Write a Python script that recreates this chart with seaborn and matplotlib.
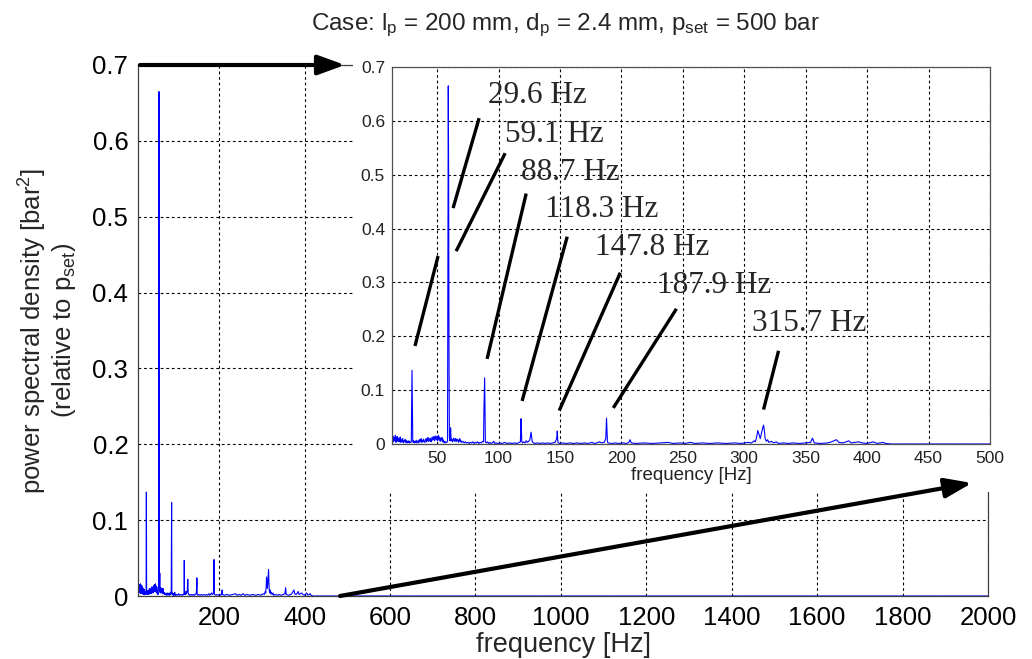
import numpy as np
import pandas as pd
import seaborn as sns
import matplotlib.pyplot as plt
from matplotlib.patches import Rectangle

# spectrum (frequency [Hz], psd [bar^2] relative to p_set)
freq_hz = [13.5, 14.0, 14.5, 15.0, 15.5, 16.0, 16.5, 17.0, 17.5, 18.0, 18.5, 19.0, 19.5, 20.0, 20.5,
           21.0, 21.5, 22.0, 22.5, 23.0, 23.5, 24.0, 24.5, 25.0, 25.5, 26.0, 26.5, 27.0, 27.5, 28.0, 28.5,
           29.0, 29.3, 29.6, 29.9, 30.2,
           30.5, 31.0, 31.5, 32.0, 32.5, 33.0, 33.5, 34.0, 34.5, 35.0, 35.5, 36.0, 36.5, 37.0, 37.5, 38.0,
           38.5, 39.0, 39.5, 40.0, 40.5, 41.0, 41.5, 42.0, 42.5, 43.0, 43.5, 44.0, 44.5, 45.0, 45.5, 46.0,
           46.5, 47.0, 47.5, 48.0, 48.5, 49.0, 49.5, 50.0, 50.5, 51.0, 51.5, 52.0, 52.5, 53.0, 53.5, 54.0,
           54.5, 55.0, 55.5, 56.0, 56.5, 57.0, 57.5,
           58.5, 58.8, 59.1, 59.4, 59.7, 60.0, 60.5, 61.0, 61.4,
           62.0, 62.5, 63.0, 63.5, 64.0, 64.5, 65.0, 65.5, 66.0, 66.5, 67.0, 67.5, 68.0, 68.5, 69.0, 69.5,
           70.0, 71.0, 72.0, 73.0, 74.0, 75.0, 76.0, 77.0, 78.0, 79.0, 80.0, 81.0, 82.0, 83.0, 84.0, 85.0,
           86.0, 87.0, 87.8,
           88.1, 88.4, 88.7, 89.0, 89.3,
           90.0, 91.0, 92.0, 93.0, 94.0, 95.0, 96.0, 97.0, 98.0, 99.0, 101.0, 103.0, 105.0, 107.0, 109.0,
           111.0, 113.0, 115.0, 117.0, 117.8,
           118.1, 118.3, 118.6, 118.9, 119.5,
           120.5, 121.5, 122.5, 123.5, 124.5, 125.5, 126.5, 127.0, 127.5, 128.5, 130.0, 132.0, 134.0,
           136.0, 138.0, 140.0, 142.0, 144.0, 146.0, 147.0,
           147.6, 147.8, 148.1, 148.5, 150.0,
           152.0, 155.0, 158.0, 161.0, 164.0, 167.0, 170.0, 173.0, 176.0, 178.0, 180.0, 182.0, 184.0,
           186.0, 187.3,
           187.6, 187.9, 188.2, 188.6, 189.0,
           192.0, 195.0, 198.0, 201.0, 204.0, 206.0, 207.0, 208.0, 212.0, 218.0, 225.0, 232.0, 238.0,
           242.0, 248.0, 252.0, 256.0, 260.0, 266.0, 272.0, 278.0, 285.0, 292.0, 298.0, 303.0, 306.0,
           308.0, 309.0, 310.0,
           311.0, 312.0, 313.0, 314.0, 315.0, 315.7, 316.5, 317.0, 318.0, 319.0, 320.0, 322.0, 324.0,
           326.0, 328.0, 332.0, 336.0, 340.0, 345.0, 350.0, 354.0, 355.5, 357.0, 362.0, 368.0, 371.0,
           373.0, 375.0, 377.0, 380.0, 383.0, 385.0, 387.0, 390.0, 393.0, 396.0, 400.0, 405.0, 408.0,
           413.0, 415.0, 420.0, 2000.0]
psd = [0.008, 0.015, 0.004, 0.012, 0.006, 0.016, 0.003, 0.010, 0.014, 0.005, 0.011, 0.004, 0.009, 0.013, 0.003,
       0.008, 0.005, 0.010, 0.002, 0.006, 0.004, 0.009, 0.003, 0.007, 0.002, 0.005, 0.003, 0.006, 0.002, 0.004, 0.003,
       0.004, 0.068, 0.137, 0.070, 0.005,
       0.003, 0.006, 0.002, 0.005, 0.003, 0.007, 0.002, 0.004, 0.006, 0.002, 0.008, 0.004, 0.006, 0.010, 0.003, 0.007,
       0.004, 0.009, 0.005, 0.003, 0.006, 0.010, 0.004, 0.007, 0.012, 0.005, 0.009, 0.006, 0.011, 0.004, 0.008, 0.013,
       0.007, 0.011, 0.014, 0.006, 0.010, 0.015, 0.008, 0.012, 0.006, 0.016, 0.009, 0.013, 0.005, 0.011, 0.007, 0.012,
       0.004, 0.008, 0.003, 0.005, 0.002, 0.004, 0.003,
       0.004, 0.335, 0.665, 0.500, 0.170, 0.012, 0.006, 0.030, 0.006,
       0.009, 0.004, 0.008, 0.011, 0.005, 0.007, 0.010, 0.004, 0.009, 0.006, 0.008, 0.003, 0.007, 0.010, 0.004, 0.006,
       0.003, 0.005, 0.002, 0.004, 0.002, 0.003, 0.001, 0.003, 0.002, 0.004, 0.001, 0.003, 0.002, 0.004, 0.001, 0.003,
       0.002, 0.005, 0.004,
       0.060, 0.093, 0.123, 0.062, 0.004,
       0.002, 0.004, 0.001, 0.003, 0.001, 0.002, 0.005, 0.001, 0.002, 0.001, 0.002, 0.001, 0.003, 0.001, 0.002,
       0.001, 0.002, 0.001, 0.003, 0.004,
       0.030, 0.047, 0.030, 0.005, 0.002,
       0.004, 0.002, 0.006, 0.003, 0.005, 0.008, 0.022, 0.012, 0.004, 0.002, 0.001, 0.002, 0.001,
       0.002, 0.001, 0.002, 0.001, 0.002, 0.003, 0.008,
       0.015, 0.024, 0.010, 0.002, 0.001,
       0.002, 0.001, 0.002, 0.001, 0.002, 0.001, 0.002, 0.001, 0.003, 0.001, 0.002, 0.004, 0.002,
       0.003, 0.010,
       0.030, 0.048, 0.030, 0.006, 0.002,
       0.001, 0.002, 0.001, 0.002, 0.001, 0.003, 0.008, 0.002, 0.001, 0.002, 0.001, 0.002, 0.003,
       0.001, 0.002, 0.001, 0.003, 0.001, 0.002, 0.001, 0.002, 0.001, 0.002, 0.001, 0.003, 0.002,
       0.006, 0.004, 0.012,
       0.025, 0.018, 0.010, 0.020, 0.030, 0.035, 0.022, 0.010, 0.005, 0.008, 0.003, 0.005, 0.002,
       0.004, 0.001, 0.002, 0.001, 0.002, 0.001, 0.002, 0.003, 0.011, 0.002, 0.001, 0.002, 0.004,
       0.006, 0.008, 0.003, 0.002, 0.004, 0.006, 0.002, 0.003, 0.004, 0.002, 0.001, 0.004, 0.001,
       0.003, 0.001, 0.0, 0.0]

peak_labels = ['29.6 Hz', '59.1 Hz', '88.7 Hz', '118.3 Hz', '147.8 Hz', '187.9 Hz', '315.7 Hz']

main_xticks = [200, 400, 600, 800, 1000, 1200, 1400, 1600, 1800, 2000]
inset_xticks = [50, 100, 150, 200, 250, 300, 350, 400, 450, 500]
yticks = [0, 0.1, 0.2, 0.3, 0.4, 0.5, 0.6, 0.7]
ytick_labels = ['0', '0.1', '0.2', '0.3', '0.4', '0.5', '0.6', '0.7']

df = pd.DataFrame({'freq': freq_hz, 'psd': psd})

sns.set_style('white')
plt.rcParams['font.family'] = ['Liberation Sans', 'DejaVu Sans']
plt.rcParams['mathtext.default'] = 'regular'

W, H = 1032, 659
fig = plt.figure(figsize=(W / 100, H / 100), dpi=100)


def fbox(x0, y0, x1, y1):
    # pixel box (top-left origin) -> figure fraction rect
    return [x0 / W, 1 - y1 / H, (x1 - x0) / W, (y1 - y0) / H]


grid_kw = dict(color='black', linestyle=(0, (2.5, 2.5)), linewidth=0.8)

# main axes
ax = fig.add_axes(fbox(138, 65, 988, 596))
sns.lineplot(data=df, x='freq', y='psd', ax=ax, color='blue', linewidth=0.8,
             estimator=None, sort=False)
ax.set_xlim(10, 2000)
ax.set_ylim(0, 0.7)
ax.set_xticks(main_xticks)
ax.set_yticks(yticks)
ax.set_yticklabels(ytick_labels)
ax.grid(True, **grid_kw)
ax.set_axisbelow(True)
ax.tick_params(direction='in', length=4, labelsize=18.5, pad=7, colors='black')
for s in ax.spines.values():
    s.set_color('#404040')
    s.set_linewidth(0.9)
ax.set_xlabel('frequency [Hz]', fontsize=19.5, labelpad=2)
ax.set_ylabel('power spectral density [bar$^2$]\n(relative to p$_{set}$)', fontsize=18.5,
              linespacing=1.05)
ax.yaxis.set_label_coords((47 - 138) / 850, 0.5)
ax.yaxis.label.set_va('center')

# white box behind the inset (hides main grid)
fig.patches.append(Rectangle((353 / W, 1 - 492 / H), (994 - 353) / W, (492 - 60) / H,
                             transform=fig.transFigure, facecolor='white', edgecolor='none',
                             zorder=0.5))

# inset
ins = fig.add_axes(fbox(392, 67, 990, 444))
ins.set_zorder(1)
sns.lineplot(data=df, x='freq', y='psd', ax=ins, color='blue', linewidth=0.8,
             estimator=None, sort=False)
ins.set_xlim(13.3, 500)
ins.set_ylim(0, 0.7)
ins.set_xticks(inset_xticks)
ins.set_yticks(yticks)
ins.set_yticklabels(ytick_labels)
ins.grid(True, **grid_kw)
ins.set_axisbelow(True)
ins.tick_params(direction='in', length=3, labelsize=12.5, pad=5, colors='#222222')
for s in ins.spines.values():
    s.set_color('#505050')
    s.set_linewidth(0.9)
ins.set_xlabel('frequency [Hz]', fontsize=13.5, labelpad=1, color='#222222')
ins.set_ylabel('')

# peak pointers and labels (inset data coords)
pointer_segments = [((32.0, 50.8), (0.182, 0.349)), ((63.0, 84.2), (0.438, 0.605)),
                    ((65.5, 105.4), (0.358, 0.540)), ((90.7, 122.5), (0.158, 0.465)),
                    ((119.2, 155.9), (0.080, 0.385)), ((149.4, 199.1), (0.062, 0.318)),
                    ((193.4, 244.8), (0.067, 0.251)), ((315.7, 327.9), (0.064, 0.173))]
for xs, ys in pointer_segments:
    ins.plot(xs, ys, color='black', linewidth=2.4, solid_capstyle='butt')

label_pos = [(91.5, 0.647), (105.4, 0.575), (118.4, 0.505), (138.0, 0.436),
             (178.7, 0.365), (229.3, 0.295), (305.9, 0.224)]
for (lx, ly), txt in zip(label_pos, peak_labels):
    ins.text(lx, ly, txt, fontsize=22.5, family=['Liberation Serif', 'DejaVu Serif'],
             ha='left', va='center')

# big zoom arrows (figure coords)
arrow_kw = dict(arrowstyle='-|>,head_length=0.55,head_width=0.2', color='black', lw=3,
                mutation_scale=30, shrinkA=0, shrinkB=0)
fig.add_artist(plt.Annotation('', xy=(345 / W, 1 - 65 / H), xytext=(140 / W, 1 - 65 / H),
                              xycoords='figure fraction', textcoords='figure fraction',
                              arrowprops=arrow_kw))
fig.add_artist(plt.Annotation('', xy=(972 / W, 1 - 483 / H), xytext=(340 / W, 1 - 596 / H),
                              xycoords='figure fraction', textcoords='figure fraction',
                              arrowprops=arrow_kw))

fig.text(565 / W, 1 - 30 / H, 'Case: l$_p$ = 200 mm, d$_p$ = 2.4 mm, p$_{set}$ = 500 bar',
         ha='center', va='baseline', fontsize=17.5)

fig.savefig('out.png', dpi=100)
